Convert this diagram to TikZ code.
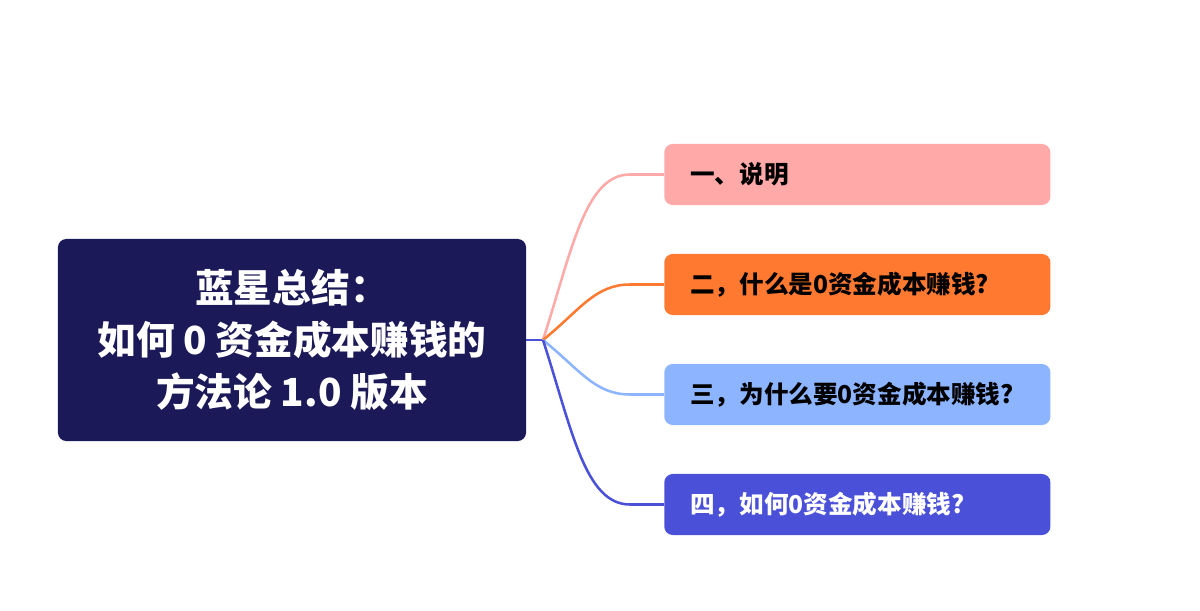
\documentclass[tikz,border=0pt]{standalone}
\usepackage{fontspec}
\newfontfamily\cjk{Noto Sans CJK SC}
\usepackage{tikz}
\usetikzlibrary{positioning}
\usepackage{xcolor}

\definecolor{raiz}{HTML}{1B1957}
\definecolor{rosa}{HTML}{FFA9A8}
\definecolor{naranja}{HTML}{FF7A30}
\definecolor{celeste}{HTML}{8DB5FF}
\definecolor{azul}{HTML}{4A50D8}

\tikzset{
  rama/.style={line width=1.8pt},
  hoja/.style={anchor=west, rounded corners=6pt, minimum width=9.65cm,
    minimum height=1.525cm, inner xsep=0.65cm, text width=8.35cm,
    align=left, font=\cjk\bfseries\fontsize{17.5}{20}\selectfont}
}

\begin{document}
\begin{tikzpicture}[x=0.025cm, y=-0.025cm]
  % Marco de la figura
  \useasboundingbox (0,0) rectangle (1200,610);

  % Nodo central
  \node[fill=raiz, text=white, rounded corners=6pt, minimum width=11.7cm,
    minimum height=5.05cm, align=center,
    font=\cjk\bfseries\fontsize{27.5}{37}\selectfont] (raiz) at (292,340)
    {蓝星总结：\\如何 0 资金成本赚钱的\\方法论 1.0 版本};

  % Las cuatro hojas
  \node[hoja, fill=rosa] (h1) at (664,174.5) {一、说明};
  \node[hoja, fill=naranja] (h2) at (664,284.5) {二，什么是0资金成本赚钱?};
  \node[hoja, fill=celeste] (h3) at (664,394.5) {三，为什么要0资金成本赚钱?};
  \node[hoja, fill=azul, text=white] (h4) at (664,504.5) {四，如何0资金成本赚钱?};

  % Ramas
  \coordinate (nudo) at (543,340);
  \draw[rama, azul] (raiz.east) -- (nudo);
  \draw[rama, rosa] (nudo) .. controls (572,250) and (585,174.5) .. (630,174.5) -- (h1.west);
  \draw[rama, naranja] (nudo) .. controls (580,310) and (595,284.5) .. (630,284.5) -- (h2.west);
  \draw[rama, celeste] (nudo) .. controls (580,370) and (595,394.5) .. (630,394.5) -- (h3.west);
  \draw[rama, azul] (nudo) .. controls (572,430) and (585,504.5) .. (630,504.5) -- (h4.west);
\end{tikzpicture}
\end{document}
